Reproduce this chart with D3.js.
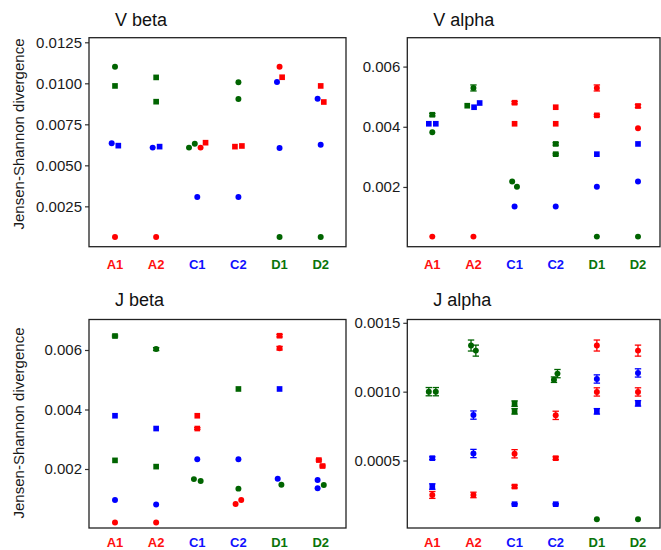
<!DOCTYPE html>
<html>
<head>
<meta charset="utf-8">
<script src="https://cdnjs.cloudflare.com/ajax/libs/d3/7.8.5/d3.min.js"></script>
<style>
  html, body { margin: 0; padding: 0; background: #fff; }
  svg { display: block; font-family: "Liberation Sans", Arial, sans-serif; }
</style>
</head>
<body>
<svg id="chart" width="661" height="550"></svg>
<script>
// samples on the x axis, colour comes from the group letter
var samples = ['A1', 'A2', 'C1', 'C2', 'D1', 'D2'];

// [sample, compared with, divergence, error, marker]
var vBeta = [
	['A1', 'D1', 0.01101, 0, 'o'], ['A1', 'D2', 0.00984, 0, 's'], ['A1', 'C1', 0.00634, 0, 'o'],
	['A1', 'C2', 0.00620, 0, 's'], ['A1', 'A2', 0.00063, 0, 'o'],
	['A2', 'D1', 0.01036, 0, 's'], ['A2', 'D2', 0.00888, 0, 's'], ['A2', 'C1', 0.00608, 0, 'o'],
	['A2', 'C2', 0.00614, 0, 's'], ['A2', 'A1', 0.00063, 0, 'o'],
	['C1', 'D1', 0.00608, 0, 'o'], ['C1', 'D2', 0.00632, 0, 'o'], ['C1', 'A2', 0.00608, 0, 'o'],
	['C1', 'A1', 0.00638, 0, 's'], ['C1', 'C2', 0.00307, 0, 'o'],
	['C2', 'D1', 0.01006, 0, 'o'], ['C2', 'D2', 0.00904, 0, 'o'], ['C2', 'A2', 0.00614, 0, 's'],
	['C2', 'A1', 0.00618, 0, 's'], ['C2', 'C1', 0.00307, 0, 'o'],
	['D1', 'A1', 0.01101, 0, 'o'], ['D1', 'C2', 0.01008, 0, 'o'], ['D1', 'A2', 0.01037, 0, 's'],
	['D1', 'C1', 0.00605, 0, 'o'], ['D1', 'D2', 0.00063, 0, 'o'],
	['D2', 'A1', 0.00984, 0, 's'], ['D2', 'C2', 0.00906, 0, 'o'], ['D2', 'A2', 0.00886, 0, 's'],
	['D2', 'C1', 0.00626, 0, 'o'], ['D2', 'D1', 0.00063, 0, 'o']
];

var vAlpha = [
	['A1', 'D1', 0.00440, 0.00004, 's'], ['A1', 'C1', 0.00410, 0, 's'], ['A1', 'C2', 0.00410, 0, 's'],
	['A1', 'D2', 0.00382, 0, 'o'], ['A1', 'A2', 0.00035, 0, 'o'],
	['A2', 'D1', 0.00529, 0.0001, 'o'], ['A2', 'D2', 0.00470, 0, 's'], ['A2', 'C2', 0.00465, 0, 's'],
	['A2', 'C1', 0.00479, 0, 's'], ['A2', 'A1', 0.00035, 0, 'o'],
	['C1', 'A2', 0.00480, 0.00004, 's'], ['C1', 'A1', 0.00410, 0, 's'], ['C1', 'D2', 0.00218, 0, 'o'],
	['C1', 'D1', 0.00201, 0, 'o'], ['C1', 'C2', 0.00135, 0, 'o'],
	['C2', 'A2', 0.00465, 0, 's'], ['C2', 'A1', 0.00410, 0, 's'], ['C2', 'D2', 0.00343, 0.00004, 's'],
	['C2', 'D1', 0.00309, 0.00003, 's'], ['C2', 'C1', 0.00135, 0, 'o'],
	['D1', 'A2', 0.00529, 0.0001, 'o'], ['D1', 'A1', 0.00438, 0.00003, 's'], ['D1', 'C2', 0.00309, 0, 's'],
	['D1', 'C1', 0.00201, 0, 'o'], ['D1', 'D2', 0.00035, 0, 'o'],
	['D2', 'A2', 0.00469, 0.00005, 's'], ['D2', 'A1', 0.00395, 0, 'o'], ['D2', 'C2', 0.00343, 0, 's'],
	['D2', 'C1', 0.00218, 0, 'o'], ['D2', 'D1', 0.00035, 0, 'o']
];

var jBeta = [
	['A1', 'D1', 0.00647, 0.00003, 's'], ['A1', 'C1', 0.00379, 0, 's'], ['A1', 'D2', 0.00229, 0, 's'],
	['A1', 'C2', 0.00096, 0, 'o'], ['A1', 'A2', 0.00020, 0, 'o'],
	['A2', 'D1', 0.00603, 0.00005, 'o'], ['A2', 'C1', 0.00336, 0, 's'], ['A2', 'D2', 0.00208, 0, 's'],
	['A2', 'C2', 0.00081, 0, 'o'], ['A2', 'A1', 0.00020, 0, 'o'],
	['C1', 'A1', 0.00379, 0, 's'], ['C1', 'A2', 0.00336, 0.00003, 's'], ['C1', 'C2', 0.00233, 0, 'o'],
	['C1', 'D1', 0.00166, 0, 'o'], ['C1', 'D2', 0.00160, 0, 'o'],
	['C2', 'D1', 0.00469, 0, 's'], ['C2', 'C1', 0.00233, 0, 'o'], ['C2', 'D2', 0.00134, 0, 'o'],
	['C2', 'A2', 0.00082, 0, 'o'], ['C2', 'A1', 0.00096, 0, 'o'],
	['D1', 'A1', 0.00648, 0.00004, 's'], ['D1', 'A2', 0.00606, 0.00006, 'o'], ['D1', 'C2', 0.00469, 0, 's'],
	['D1', 'C1', 0.00167, 0, 'o'], ['D1', 'D2', 0.00147, 0, 'o'],
	['D2', 'A1', 0.00230, 0.00003, 's'], ['D2', 'A2', 0.00210, 0.00003, 's'], ['D2', 'C1', 0.00163, 0, 'o'],
	['D2', 'C2', 0.00135, 0, 'o'], ['D2', 'D1', 0.00146, 0, 'o']
];

var jAlpha = [
	['A1', 'D1', 0.001000, 0.00003, 'o'], ['A1', 'D2', 0.001000, 0.00003, 'o'], ['A1', 'C2', 0.000517, 0.00001, 's'],
	['A1', 'C1', 0.000311, 0.00002, 's'], ['A1', 'A2', 0.000250, 0.000025, 'o'],
	['A2', 'D1', 0.001335, 0.00004, 'o'], ['A2', 'D2', 0.001298, 0.00004, 'o'], ['A2', 'C2', 0.000830, 0.00003, 'o'],
	['A2', 'C1', 0.000551, 0.00003, 'o'], ['A2', 'A1', 0.000250, 0.00002, 'o'],
	['C1', 'D2', 0.000913, 0.00002, 's'], ['C1', 'D1', 0.000857, 0.00002, 's'], ['C1', 'A2', 0.000549, 0.00003, 'o'],
	['C1', 'A1', 0.000311, 0.00001, 's'], ['C1', 'C2', 0.000183, 0.000005, 's'],
	['C2', 'D1', 0.001087, 0.00002, 'o'], ['C2', 'D2', 0.001131, 0.00003, 'o'], ['C2', 'A2', 0.000828, 0.00003, 'o'],
	['C2', 'A1', 0.000517, 0.00001, 's'], ['C2', 'C1', 0.000183, 0.000005, 's'],
	['D1', 'A2', 0.001335, 0.00004, 'o'], ['D1', 'C2', 0.001092, 0.00003, 'o'], ['D1', 'A1', 0.000998, 0.00003, 'o'],
	['D1', 'C1', 0.000857, 0.00002, 's'], ['D1', 'D2', 0.0000735, 0, 'o'],
	['D2', 'A2', 0.001298, 0.00004, 'o'], ['D2', 'C2', 0.001136, 0.00003, 'o'], ['D2', 'A1', 0.000998, 0.00003, 'o'],
	['D2', 'C1', 0.000915, 0.00002, 's'], ['D2', 'D1', 0.0000735, 0, 'o']
];

var vBetaTicks = [0.0025, 0.005, 0.0075, 0.01, 0.0125],
	vBetaTickLabels = ['0.0025', '0.0050', '0.0075', '0.0100', '0.0125'],
	vAlphaTicks = [0.002, 0.004, 0.006],
	vAlphaTickLabels = ['0.002', '0.004', '0.006'],
	jBetaTicks = [0.002, 0.004, 0.006],
	jBetaTickLabels = ['0.002', '0.004', '0.006'],
	jAlphaTicks = [0.0005, 0.001, 0.0015],
	jAlphaTickLabels = ['0.0005', '0.0010', '0.0015'];

var pointColor = { A: '#ff0000', C: '#0000ff', D: '#006400' },
	labelColor = { A: '#ff1010', C: '#1010ff', D: '#0a740a' };

// layout
var cols = [
	{ x0: 89, x1: 346, inL: 26, inR: 25.3 },
	{ x0: 407.3, x1: 660, inL: 25, inR: 22 }
];
var rows = [
	{ y0: 37.7, y1: 246.7, titleY: 26, labelY: 269.3, axisTitleY: 134 },
	{ y0: 319.5, y1: 528, titleY: 306, labelY: 547, axisTitleY: 423 }
];

var panels = [
	{ title: 'V beta', data: vBeta, ticks: vBetaTicks, tickLabels: vBetaTickLabels, domain: [0.00004, 0.01278], col: 0, row: 0 },
	{ title: 'V alpha', data: vAlpha, ticks: vAlphaTicks, tickLabels: vAlphaTickLabels, domain: [0.000015, 0.00696], col: 1, row: 0 },
	{ title: 'J beta', data: jBeta, ticks: jBetaTicks, tickLabels: jBetaTickLabels, domain: [0.000017, 0.007025], col: 0, row: 1 },
	{ title: 'J alpha', data: jAlpha, ticks: jAlphaTicks, tickLabels: jAlphaTickLabels, domain: [0.00001, 0.001524], col: 1, row: 1 }
];

var svg = d3.select('#chart');

// beeswarm-like offsets: overlapping points in one column are pushed apart, then each clump is centred
function swarm(ys, d) {
	var n = ys.length,
		xs = [],
		parent = d3.range(n);
	function find(i) { return parent[i] === i ? i : (parent[i] = find(parent[i])); }
	for (var i = 0; i < n; i++) {
		var best = 0;
		for (var j = 0; j < i; j++) {
			var dy = Math.abs(ys[i] - ys[j]);
			if (dy < d) {
				best = Math.max(best, xs[j] + Math.sqrt(d * d - dy * dy));
				parent[find(j)] = find(i);
			}
		}
		xs.push(best);
	}
	d3.group(d3.range(n), find).forEach(function(idx) {
		var mid = (d3.min(idx, function(k) { return xs[k]; }) + d3.max(idx, function(k) { return xs[k]; })) / 2;
		idx.forEach(function(k) { xs[k] -= mid; });
	});
	return xs;
}

panels.forEach(function(p) {
	var c = cols[p.col], r = rows[p.row];

	var x = d3.scalePoint().domain(samples).range([c.x0 + c.inL, c.x1 - c.inR]);
	var y = d3.scaleLinear().domain(p.domain).range([r.y1, r.y0]);

	var g = svg.append('g');

	// y axis
	var yAxis = d3.axisLeft(y)
		.tickValues(p.ticks)
		.tickFormat(function(d, i) { return p.tickLabels[i]; })
		.tickSize(4)
		.tickPadding(3);
	var ax = g.append('g').attr('transform', 'translate(' + c.x0 + ',0)').call(yAxis);
	ax.select('.domain').remove();
	ax.selectAll('line').attr('stroke', '#333').attr('stroke-width', 1.2);
	ax.selectAll('text')
		.attr('fill', '#1a1a1a')
		.style('font-size', '15px')
		.style('font-family', '"Liberation Sans", Arial, sans-serif');

	// x labels
	g.selectAll('.xlab')
			.data(samples)
		.enter().append('text')
			.attr('x', function(d) { return x(d); })
			.attr('y', r.labelY)
			.attr('text-anchor', 'middle')
			.attr('fill', function(d) { return labelColor[d[0]]; })
			.style('font-size', '13px')
			.style('font-weight', 'bold')
			.text(function(d) { return d; });

	// frame
	g.append('rect')
		.attr('x', c.x0)
		.attr('y', r.y0)
		.attr('width', c.x1 - c.x0)
		.attr('height', r.y1 - r.y0)
		.attr('fill', 'none')
		.attr('stroke', '#222')
		.attr('stroke-width', 1.3);

	// title
	g.append('text')
		.attr('x', c.x0 + 26)
		.attr('y', r.titleY)
		.attr('fill', '#111')
		.style('font-size', '18px')
		.text(p.title);

	if (p.col === 0) {
		g.append('text')
			.attr('transform', 'translate(23.5,' + r.axisTitleY + ') rotate(-90)')
			.attr('text-anchor', 'middle')
			.attr('fill', '#1a1a1a')
			.style('font-size', '15px')
			.text('Jensen-Shannon divergence');
	}

	// points, with horizontal offsets per column
	var nodes = p.data.map(function(d) {
		return { s: d[0], vs: d[1], v: d[2], e: d[3], shape: d[4] };
	});
	d3.group(nodes, function(d) { return d.s; }).forEach(function(list) {
		var off = swarm(list.map(function(d) { return y(d.v); }), 7);
		list.forEach(function(d, i) { d.dx = off[i]; });
	});

	var withErr = nodes.filter(function(d) { return d.e > 0; });
	var eb = g.selectAll('.err')
			.data(withErr)
		.enter().append('g')
			.attr('stroke', function(d) { return pointColor[d.vs[0]]; })
			.attr('stroke-width', 1.3);
	eb.append('line')
		.attr('x1', function(d) { return x(d.s) + d.dx; })
		.attr('x2', function(d) { return x(d.s) + d.dx; })
		.attr('y1', function(d) { return y(d.v - d.e); })
		.attr('y2', function(d) { return y(d.v + d.e); });
	[-1, 1].forEach(function(sign) {
		eb.append('line')
			.attr('x1', function(d) { return x(d.s) + d.dx - 3.2; })
			.attr('x2', function(d) { return x(d.s) + d.dx + 3.2; })
			.attr('y1', function(d) { return y(d.v + sign * d.e); })
			.attr('y2', function(d) { return y(d.v + sign * d.e); });
	});

	var sym = d3.symbol()
		.type(function(d) { return d.shape === 's' ? d3.symbolSquare : d3.symbolCircle; })
		.size(function(d) { return d.shape === 's' ? 32 : 28; });

	g.selectAll('.pt')
			.data(nodes)
		.enter().append('path')
			.attr('transform', function(d) { return 'translate(' + (x(d.s) + d.dx) + ',' + y(d.v) + ')'; })
			.attr('d', sym)
			.attr('fill', function(d) { return pointColor[d.vs[0]]; });
});
</script>
</body>
</html>
